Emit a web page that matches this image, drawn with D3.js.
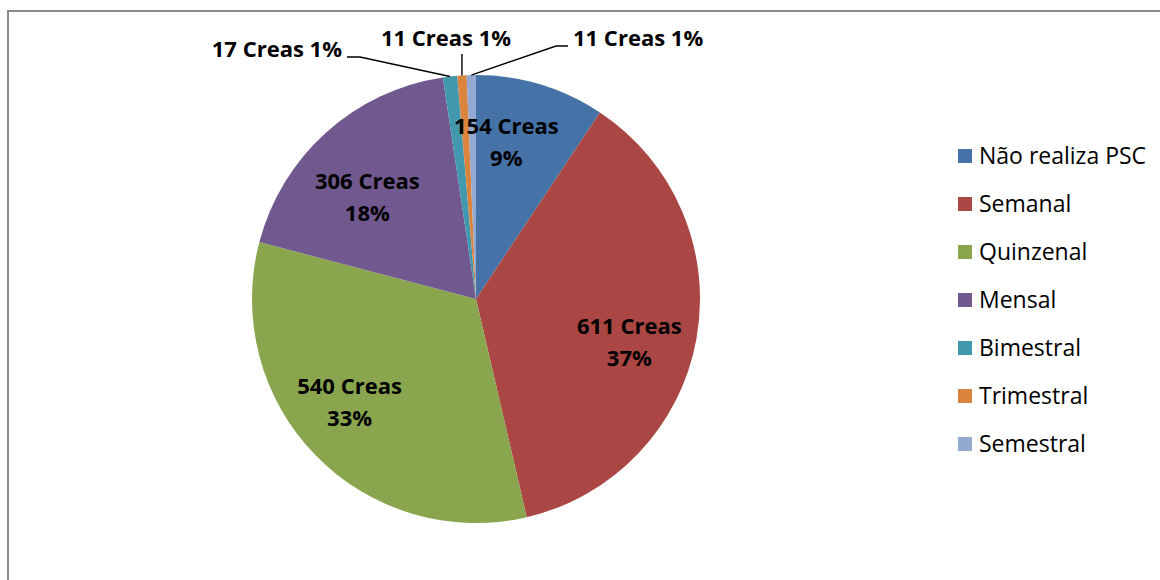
<!DOCTYPE html>
<html>
<head>
<meta charset="utf-8">
<script src="https://cdn.jsdelivr.net/npm/d3@7"></script>
<style>
  html, body { margin: 0; padding: 0; background: #fff; }
  svg { display: block; }
  text { font-family: "Open Sans", "Liberation Sans", sans-serif; }
</style>
</head>
<body>
<svg id="chart" width="1160" height="580"></svg>
<script>
// Frequência de realização de PSC pelos CREAS
const categories = ["Não realiza PSC", "Semanal", "Quinzenal", "Mensal", "Bimestral", "Trimestral", "Semestral"];
const counts = [154, 611, 540, 306, 17, 11, 11];
const percentLabels = [9, 37, 33, 18, 1, 1, 1];
const colors = ["#4572A7", "#AA4643", "#89A54E", "#71588F", "#4198AF", "#DB843D", "#93A9CF"];
const unitLabel = "Creas";

const W = 1160, H = 580;
const cx = 476, cy = 299, R = 224;
const labelFont = 22;
const legendFont = 23;

const svg = d3.select("#chart");

// outer frame of the chart area
svg.append("rect")
  .attr("x", 8).attr("y", 11)
  .attr("width", W + 20).attr("height", H + 20)
  .attr("fill", "none")
  .attr("stroke", "#8a8a8a")
  .attr("stroke-width", 2);

const total = d3.sum(counts);
const data = categories.map((c, i) => ({
  name: c, value: counts[i], pct: percentLabels[i], color: colors[i]
}));

const pie = d3.pie().value(d => d.value).sort(null);
const arcs = pie(data);
const arc = d3.arc().innerRadius(0).outerRadius(R);

const g = svg.append("g").attr("transform", `translate(${cx},${cy})`);

g.selectAll("path.slice")
  .data(arcs)
  .join("path")
  .attr("class", "slice")
  .attr("d", arc)
  .attr("fill", d => d.data.color);

const mid = d => (d.startAngle + d.endAngle) / 2;
const polar = (a, r) => [r * Math.sin(a), -r * Math.cos(a)];

// labels inside the larger slices (two lines), nudged to a best-fit spot
const big = arcs.filter(d => d.value / total >= 0.05);
const labelR = R * 0.7;
const nudges = [[-15, -7], [-1, 15], [-14, -6], [-4, 15]];
const inner = g.selectAll("text.inner")
  .data(big)
  .join("text")
  .attr("class", "inner")
  .attr("text-anchor", "middle")
  .attr("font-weight", "bold")
  .attr("font-size", labelFont)
  .attr("fill", "#000")
  .attr("transform", (d, i) => {
    const [x, y] = polar(mid(d), labelR);
    return `translate(${x + nudges[i][0]},${y + nudges[i][1]})`;
  });
inner.append("tspan").attr("x", 0).attr("y", -8).text(d => `${d.value} ${unitLabel}`);
inner.append("tspan").attr("x", 0).attr("y", 24).text(d => `${d.data.pct}%`);

// small slices: labels outside with leader lines
const small = arcs.filter(d => d.value / total < 0.05);
const outside = [
  { tx: -134, ty: -242, anchor: "end",    elbow: [-116, -242] },
  { tx: -30,  ty: -253, anchor: "middle", elbow: null },
  { tx: 97,   ty: -253, anchor: "start",  elbow: [80, -253] }
];

small.forEach((d, i) => {
  const o = outside[i];
  const [ex, ey] = polar(mid(d), R);
  let pts;
  if (o.elbow) {
    const hx = o.anchor === "end" ? o.tx + 5 : o.tx - 5;
    pts = [[ex, ey], o.elbow, [hx, o.elbow[1]]];
  } else {
    pts = [[ex, ey], [ex, o.ty + 8]];
  }
  g.append("path")
    .attr("d", d3.line()(pts))
    .attr("fill", "none")
    .attr("stroke", "#000")
    .attr("stroke-width", 1.4);
  g.append("text")
    .attr("x", o.tx)
    .attr("y", o.ty)
    .attr("text-anchor", o.anchor)
    .attr("font-weight", "bold")
    .attr("font-size", labelFont)
    .attr("fill", "#000")
    .text(`${d.value} ${unitLabel} ${d.data.pct}%`);
});

// legend
const legend = svg.append("g").attr("transform", "translate(958,156)");
const rowH = 48;
const item = legend.selectAll("g.item")
  .data(data)
  .join("g")
  .attr("class", "item")
  .attr("transform", (d, i) => `translate(0,${i * rowH})`);
item.append("rect")
  .attr("x", 0).attr("y", -7)
  .attr("width", 14).attr("height", 14)
  .attr("fill", d => d.color);
item.append("text")
  .attr("x", 21).attr("y", 0)
  .attr("dy", "0.36em")
  .attr("font-size", legendFont)
  .attr("fill", "#000")
  .text(d => d.name);
</script>
</body>
</html>
